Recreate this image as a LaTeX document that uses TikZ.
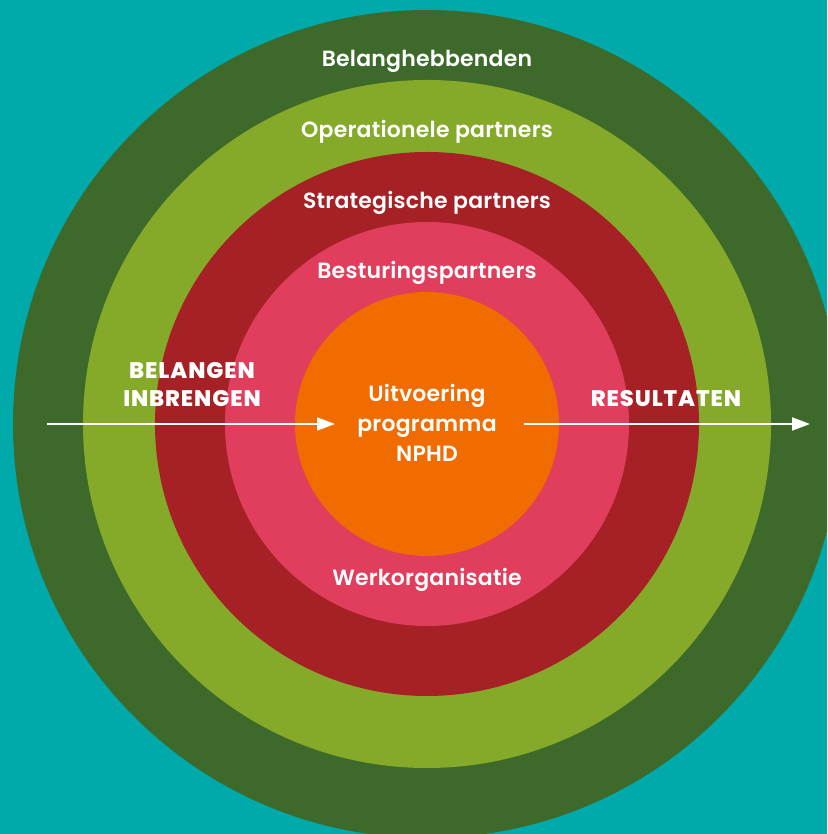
\documentclass[tikz,border=0pt]{standalone}
\usepackage{fontspec}
\setmainfont{Poppins}
\newfontfamily\medfont{Poppins SemiBold}[LetterSpace=1]
\newfontfamily\capfont{Poppins ExtraBold}[LetterSpace=4]
\usetikzlibrary{arrows.meta}

\definecolor{bgteal}{RGB}{0,170,170}
\definecolor{ringdgreen}{RGB}{61,106,43}
\definecolor{ringlgreen}{RGB}{133,170,42}
\definecolor{ringred}{RGB}{166,33,37}
\definecolor{ringpink}{RGB}{225,61,93}
\definecolor{ringorange}{RGB}{240,107,0}

\tikzstyle{ring} = [circle, inner sep=0pt, draw=none]
\tikzstyle{lbl} = [text=white, font=\medfont\fontsize{22}{30}\selectfont, align=center, inner sep=0pt]
\tikzstyle{caplbl} = [text=white, font=\capfont\fontsize{22.5}{28}\selectfont, align=center, inner sep=0pt]
\tikzstyle{flow} = [white, line width=2pt, -{Triangle[length=18pt,width=13pt]}]

\begin{document}
\begin{tikzpicture}[x=1pt, y=1pt]
    \useasboundingbox (0,0) rectangle (827,834);
    \clip (0,0) rectangle (827,834);
    \fill [bgteal] (0,0) rectangle (827,834);
    % rings, outside in
    \node [ring, fill=ringdgreen, minimum size=828pt] (belang) at (427,410) {};
    \node [ring, fill=ringlgreen, minimum size=688pt] (oper) at (belang.center) {};
    \node [ring, fill=ringred, minimum size=544pt] (strat) at (belang.center) {};
    \node [ring, fill=ringpink, minimum size=404pt] (bestuur) at (belang.center) {};
    \node [ring, fill=ringorange, minimum size=264pt] (kern) at (belang.center) {};
    % ring labels
    \node [lbl] (tbelang) at (427,773) {Belanghebbenden};
    \node [lbl] (toper) at (427,702) {Operationele partners};
    \node [lbl] (tstrat) at (427,631) {Strategische partners};
    \node [lbl] (tbestuur) at (427,561) {Besturingspartners};
    \node [lbl] (twerk) at (427,254) {Werkorganisatie};
    \node [lbl] (tkern) at (427,411) {Uitvoering\\programma\\NPHD};
    \node [caplbl] (tin) at (192,449) {BELANGEN\\INBRENGEN};
    \node [caplbl] (tuit) at (666,435) {RESULTATEN};
    % flow arrows
    \coordinate (instart) at (47,410);
    \coordinate (inend) at (335,410);
    \coordinate (uitstart) at (524,410);
    \coordinate (uitend) at (810,410);
    \draw [flow] (instart) -- (inend);
    \draw [flow] (uitstart) -- (uitend);
\end{tikzpicture}
\end{document}
